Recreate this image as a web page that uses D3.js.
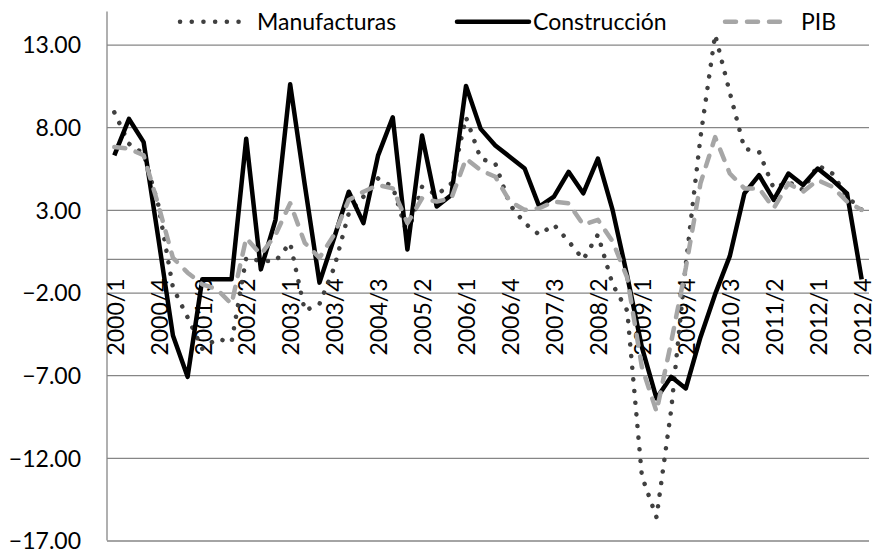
<!DOCTYPE html>
<html>
<head>
<meta charset="utf-8">
<script src="https://cdn.jsdelivr.net/npm/d3@7"></script>
<style>
  html, body { margin: 0; padding: 0; background: #fff; }
  svg text { font-family: Lato, 'Open Sans', sans-serif; fill: #000; }
</style>
</head>
<body>
<svg id="chart"></svg>
<script>
'use strict';
const QUARTERS = [
  '2000/1', '2000/2', '2000/3', '2000/4', '2001/1', '2001/2', '2001/3', '2001/4',
  '2002/1', '2002/2', '2002/3', '2002/4', '2003/1', '2003/2', '2003/3', '2003/4',
  '2004/1', '2004/2', '2004/3', '2004/4', '2005/1', '2005/2', '2005/3', '2005/4',
  '2006/1', '2006/2', '2006/3', '2006/4', '2007/1', '2007/2', '2007/3', '2007/4',
  '2008/1', '2008/2', '2008/3', '2008/4', '2009/1', '2009/2', '2009/3', '2009/4',
  '2010/1', '2010/2', '2010/3', '2010/4', '2011/1', '2011/2', '2011/3', '2011/4',
  '2012/1', '2012/2', '2012/3', '2012/4',
];
// every third quarter gets a label
const TICK_LABELS = [
  '2000/1', '2000/4', '2001/3', '2002/2', '2003/1', '2003/4', '2004/3', '2005/2',
  '2006/1', '2006/4', '2007/3', '2008/2', '2009/1', '2009/4', '2010/3', '2011/2',
  '2012/1', '2012/4',
];
const Y_TICKS = [-17, -12, -7, -2, 3, 8, 13];

const MANUFACTURAS = [
  8.9, 7.0, 6.4, 3.3, -1.7, -3.5, -5.4, -4.8, -5.0, 0.1, -0.1, -0.1, 1.0,
  -3.1, -2.7, -0.5, 2.8, 3.8, 4.9, 4.4, 1.5, 4.4, 3.9, 4.6, 8.6, 6.1,
  5.8, 3.3, 2.2, 1.5, 2.1, 1.1, 0.0, 1.5, -1.5, -3.1, -13.1, -15.6, -9.1,
  -0.3, 7.4, 13.6, 10.1, 6.7, 6.5, 4.3, 4.7, 4.2, 5.7, 5.2, 3.8, 3.0,
];
const CONSTRUCCION = [
  6.3, 8.5, 7.1, 1.3, -4.6, -7.1, -1.2, -1.2, -1.2, 7.3, -0.6, 2.4, 10.6,
  4.5, -1.4, 1.3, 4.1, 2.2, 6.3, 8.6, 0.6, 7.5, 3.2, 3.9, 10.5, 7.9,
  6.9, 6.2, 5.5, 3.2, 3.8, 5.3, 4.0, 6.1, 3.0, -1.0, -5.3, -8.4, -7.1,
  -7.8, -4.7, -2.1, 0.2, 4.0, 5.1, 3.6, 5.2, 4.5, 5.5, 4.8, 4.0, -1.2,
];
const PIB = [
  6.8, 6.7, 6.3, 3.3, 0.1, -0.8, -1.5, -1.8, -2.7, 1.3, 0.3, 1.5, 3.4,
  1.0, 0.1, 1.5, 3.6, 4.1, 4.5, 4.3, 2.2, 3.7, 3.5, 3.7, 6.1, 5.4,
  5.0, 3.5, 3.0, 3.1, 3.5, 3.4, 2.1, 2.4, 1.1, -1.1, -6.5, -9.2, -5.0,
  -0.5, 4.6, 7.4, 5.2, 4.3, 4.3, 3.1, 4.6, 4.1, 4.8, 4.4, 3.5, 3.0,
];

const SERIES = [
  { name: 'Manufacturas', values: MANUFACTURAS, color: '#404040', dash: '0.1,11.6' },
  { name: 'Construcción', values: CONSTRUCCION, color: '#000000', dash: null },
  { name: 'PIB', values: PIB, color: '#a6a6a6', dash: '11,11' },
];
const GRID_COLOR = '#868686';
const FONT_SIZE = 23;

document.addEventListener('DOMContentLoaded', drawChart, false);

function drawChart() {
  let width = 876,
    height = 553;
  let plot = { left: 107, right: 869, top: 11.5, bottom: 540.5 };

  let svg = d3
    .select('#chart')
    .attr('width', width)
    .attr('height', height)
    .style('display', 'block');

  let x = d3
    .scalePoint()
    .domain(QUARTERS)
    .range([plot.left, plot.right])
    .padding(0.5);

  let y = d3.scaleLinear().domain([-17, 15]).range([plot.bottom, plot.top]);

  // Y-Axis with full-width gridlines
  let yAxis = (g) =>
    g
      .attr('transform', `translate(${plot.left},0)`)
      .call(
        d3
          .axisRight(y)
          .tickValues(Y_TICKS)
          .tickSize(plot.right - plot.left)
          .tickFormat(d3.format('.2f'))
      )
      .call((g) => g.select('.domain').remove())
      .call((g) =>
        g.selectAll('.tick line').attr('stroke', GRID_COLOR).attr('stroke-width', 1.3)
      )
      .call((g) =>
        g
          .selectAll('.tick text')
          .attr('x', -26)
          .attr('dy', '0.36em')
          .attr('text-anchor', 'end')
          .style('font-size', FONT_SIZE + 'px')
          .attr('fill', '#000')
      );
  svg.append('g').call(yAxis);

  // vertical axis line
  svg
    .append('line')
    .attr('x1', plot.left)
    .attr('x2', plot.left)
    .attr('y1', plot.top)
    .attr('y2', plot.bottom)
    .attr('stroke', GRID_COLOR)
    .attr('stroke-width', 1.3);

  // X-Axis crossing at zero, labels rotated
  let xAxis = (g) =>
    g
      .attr('transform', `translate(0,${y(0)})`)
      .call(d3.axisBottom(x).tickValues(TICK_LABELS).tickSize(0))
      .call((g) =>
        g
          .select('.domain')
          .attr('d', `M${plot.left},0H${plot.right}`)
          .attr('stroke', GRID_COLOR)
          .attr('stroke-width', 1.3)
      )
      .call((g) =>
        g
          .selectAll('.tick text')
          .attr('transform', 'rotate(-90)')
          .attr('x', -19)
          .attr('y', 0)
          .attr('dy', '0.38em')
          .attr('text-anchor', 'end')
          .style('font-size', FONT_SIZE + 'px')
          .attr('fill', '#000')
      );
  svg.append('g').call(xAxis);

  // lines
  let line = d3
    .line()
    .x((d, i) => x(QUARTERS[i]))
    .y((d) => y(d));

  svg
    .append('g')
    .selectAll('path')
    .data(SERIES)
    .enter()
    .append('path')
    .attr('d', (s) => line(s.values))
    .attr('fill', 'none')
    .attr('stroke', (s) => s.color)
    .attr('stroke-width', 4.5)
    .attr('stroke-linejoin', 'round')
    .attr('stroke-linecap', (s) => (s.dash ? 'round' : 'butt'))
    .attr('stroke-dasharray', (s) => s.dash);

  // legend
  let legendItems = [
    { x0: 180, x1: 244, tx: 257 },
    { x0: 457, x1: 529, tx: 533 },
    { x0: 725, x1: 787, tx: 801 },
  ];
  let legend = svg
    .append('g')
    .selectAll('g')
    .data(SERIES)
    .enter()
    .append('g');

  legend
    .append('line')
    .attr('x1', (s, i) => legendItems[i].x0)
    .attr('x2', (s, i) => legendItems[i].x1)
    .attr('y1', 21.7)
    .attr('y2', 21.7)
    .attr('stroke', (s) => s.color)
    .attr('stroke-width', 4.5)
    .attr('stroke-linecap', 'round')
    .attr('stroke-dasharray', (s) => s.dash);

  legend
    .append('text')
    .attr('x', (s, i) => legendItems[i].tx)
    .attr('y', 21.7)
    .attr('dy', '0.36em')
    .style('font-size', FONT_SIZE + 'px')
    .text((s) => s.name);
}
</script>
</body>
</html>
